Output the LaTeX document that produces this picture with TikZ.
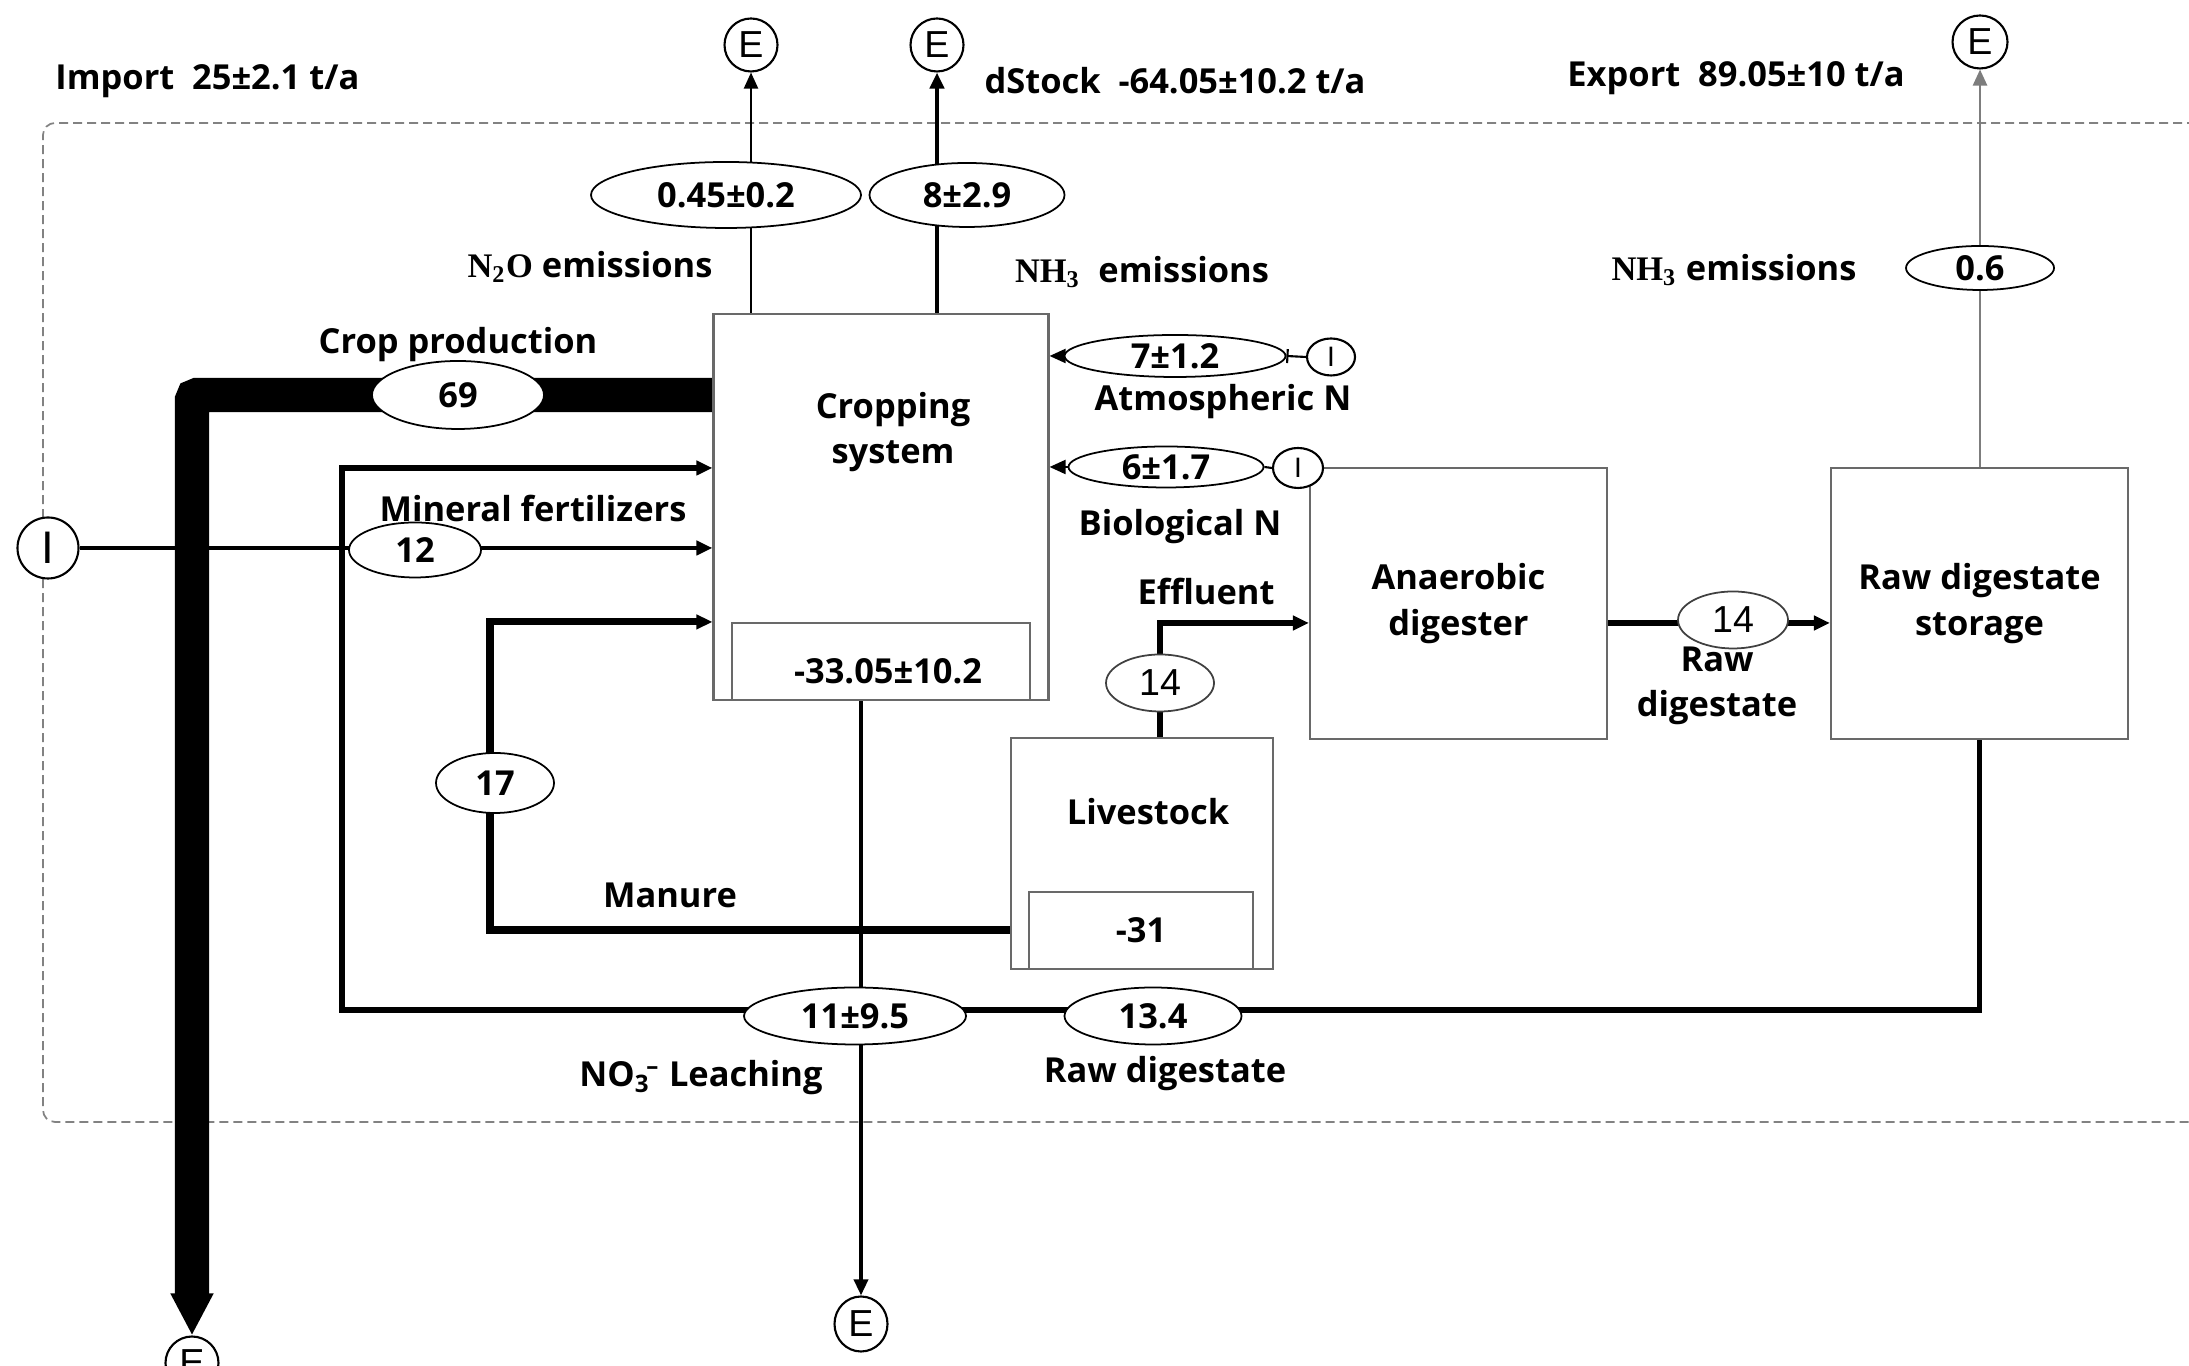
\documentclass[tikz,border=0pt]{standalone}
\usepackage{fontspec}
\setmainfont{Open Sans}
\newfontfamily\termfont{Liberation Sans}
\newfontfamily\chemfont{Liberation Serif}
\usetikzlibrary{shapes.geometric,arrows.meta,backgrounds}
\definecolor{boxgray}{RGB}{105, 105, 105}
\definecolor{linegray}{RGB}{125, 125, 125}
\definecolor{dashgray}{RGB}{130, 130, 130}

\begin{document}
\begin{tikzpicture}[font=\bfseries\fontsize{9.8}{13}\selectfont,
    flowbox/.style={draw=boxgray, line width=0.6pt, fill=white, inner sep=0pt},
    valnode/.style={ellipse, draw, line width=0.5pt, fill=white, inner sep=0pt},
    termnode/.style={ellipse, draw, line width=0.6pt, fill=white, inner sep=0pt,
      font=\termfont\mdseries\fontsize{10.7}{12}\selectfont},
    arr/.style={-{Triangle[length=1.6mm, width=1.4mm]}}]
        \useasboundingbox (0,0) rectangle (21.89,13.66);
        % Cropping system
        \node[flowbox, minimum width=3.35cm, minimum height=3.86cm] (crop) at (8.81,8.59) {};
        \node[align=center] (croplbl) at (8.93,9.34) {Cropping\\system};
        \node[flowbox, minimum width=2.98cm, minimum height=0.77cm] (cropstock) at (8.81,7.045) {};
        \node (cropstocklbl) at (8.88,6.95) {-33.05±10.2};
        % Livestock
        \node[flowbox, minimum width=2.62cm, minimum height=2.31cm] (live) at (11.42,5.125) {};
        \node (livelbl) at (11.48,5.54) {Livestock};
        \node[flowbox, minimum width=2.24cm, minimum height=0.77cm] (livestock) at (11.41,4.355) {-31};
        % Anaerobic digester
        \node[flowbox, minimum width=2.97cm, minimum height=2.71cm, align=center] (ad) at (14.585,7.625) {Anaerobic\\digester};
        % Raw digestate storage
        \node[flowbox, minimum width=2.97cm, minimum height=2.71cm, align=center] (store) at (19.795,7.625) {Raw digestate\\storage};
        % Import / export terminals
        \node[termnode, minimum width=0.53cm, minimum height=0.53cm] (eN2O) at (7.51,13.21) {E};
        \node[termnode, minimum width=0.53cm, minimum height=0.53cm] (eNH3) at (9.37,13.21) {E};
        \node[termnode, minimum width=0.55cm, minimum height=0.53cm] (eNH3b) at (19.80,13.24) {E};
        \node[termnode, minimum width=0.53cm, minimum height=0.55cm] (eNO3) at (8.61,0.42) {E};
        \node[termnode, minimum width=0.53cm, minimum height=0.53cm] (eCrop) at (1.92,0.03) {E};
        \node[termnode, minimum width=0.61cm, minimum height=0.61cm, font=\termfont\mdseries\fontsize{13}{14}\selectfont] (iMin) at (0.48,8.18) {I};
        \node[termnode, minimum width=0.48cm, minimum height=0.37cm, font=\termfont\mdseries\fontsize{8}{9}\selectfont] (iAtm) at (13.31,10.09) {I};
        \node[termnode, minimum width=0.50cm, minimum height=0.40cm, font=\termfont\mdseries\fontsize{8}{9}\selectfont] (iBio) at (12.98,8.98) {I};
        % Flow values
        \node[valnode, minimum width=1.72cm, minimum height=0.68cm] (v69) at (4.58,9.71) {69};
        \node[valnode, minimum width=1.32cm, minimum height=0.55cm] (v12) at (4.15,8.16) {12};
        \node[valnode, minimum width=1.18cm, minimum height=0.60cm] (v17) at (4.95,5.83) {17};
        \node[valnode, minimum width=2.70cm, minimum height=0.66cm] (vN2O) at (7.26,11.71) {0.45±0.2};
        \node[valnode, minimum width=1.95cm, minimum height=0.64cm] (vNH3) at (9.67,11.71) {8±2.9};
        \node[valnode, minimum width=1.48cm, minimum height=0.44cm] (v06) at (19.80,10.98) {0.6};
        \node[valnode, minimum width=2.21cm, minimum height=0.42cm] (vAtm) at (11.75,10.10) {7±1.2};
        \node[valnode, minimum width=1.95cm, minimum height=0.41cm] (vBio) at (11.66,8.99) {6±1.7};
        \node[valnode, draw=black!75, minimum width=1.08cm, minimum height=0.57cm, font=\termfont\mdseries\fontsize{10.7}{12}\selectfont] (vEff) at (11.60,6.83) {14};
        \node[valnode, draw=black!75, minimum width=1.10cm, minimum height=0.57cm, font=\termfont\mdseries\fontsize{10.7}{12}\selectfont] (vRaw) at (17.33,7.46) {14};
        \node[valnode, minimum width=2.22cm, minimum height=0.57cm] (vLeach) at (8.55,3.50) {11±9.5};
        \node[valnode, minimum width=1.77cm, minimum height=0.57cm] (vDig) at (11.53,3.50) {13.4};
        % Labels
        \node[anchor=west] (importlbl) at (0.43,12.85) {Import\ \ 25±2.1 t/a};
        \node (dstocklbl) at (11.75,12.85) {dStock\ \ -64.05±10.2 t/a};
        \node (exportlbl) at (17.36,12.88) {Export\ \ 89.05±10 t/a};
        \node (n2olbl) at (5.90,10.99) {{\chemfont N\textsubscript{2}O} emissions};
        \node (nh3lbl) at (11.42,10.94) {{\chemfont NH\textsubscript{3}}\ \ emissions};
        \node (nh3blbl) at (17.34,10.96) {{\chemfont NH\textsubscript{3}} emissions};
        \node (cropprodlbl) at (4.58,10.21) {Crop production};
        \node (minlbl) at (5.33,8.57) {Mineral fertilizers};
        \node (atmlbl) at (12.23,9.64) {Atmospheric N};
        \node (biolbl) at (11.80,8.39) {Biological N};
        \node (efflbl) at (12.06,7.74) {Effluent};
        \node[align=center] (rawlbl) at (17.17,6.80) {Raw\\digestate};
        \node (manlbl) at (6.70,4.71) {Manure};
        \node (leachlbl) at (7.01,2.88) {NO\textsubscript{3}\kern-0.12em\textsuperscript{--} Leaching};
        \node (diglbl) at (11.65,2.92) {Raw digestate};
        \begin{scope}[on background layer]
        % System boundary
        \draw[dashgray, line width=0.5pt, dash pattern=on 0.09cm off 0.05cm, rounded corners=0.12cm] (22.1,12.43) -- (0.43,12.43) -- (0.43,2.44) -- (22.1,2.44);
        % Crop production
        \coordinate (cropturn) at (1.92,9.71);
        \draw[line width=9.7pt, rounded corners=0.05cm, -{Triangle[length=0.42cm, width=0.4cm]}] (crop.west |- v69) -- (cropturn) -- (eCrop.north);
        % Gaseous emissions
        \draw[line width=0.6pt, arr] (crop.north -| eN2O) -- (eN2O.south);
        \draw[line width=1.3pt, arr] (crop.north -| eNH3) -- (eNH3.south);
        \draw[linegray, line width=0.7pt, arr] (store.north -| eNH3b) -- (eNH3b.south);
        % Atmospheric and biological N
        \draw[line width=0.6pt, {Bar[width=1.4mm]}-] (vAtm.east) -- (iAtm.west);
        \draw[line width=0.6pt, arr] (vAtm.west) -- (crop.east |- vAtm);
        \draw[line width=0.6pt] (vBio.east) -- (iBio.west);
        \draw[line width=0.6pt, arr] (vBio.west) -- (crop.east |- vBio);
        % Mineral fertilizers
        \draw[line width=1.4pt, arr] (iMin.east) -- (crop.west |- iMin);
        % Raw digestate back to the fields
        \coordinate (rawturn) at (3.42,3.56);
        \coordinate (rawtop) at (3.42,8.98);
        \draw[line width=1.5pt, arr] (store.south) |- (rawturn) -- (rawtop) -- (crop.west |- rawtop);
        % Manure
        \coordinate (manturn) at (4.90,4.36);
        \draw[line width=2pt, arr] (live.west |- manturn) -- (manturn) |- (cropstock.north -| crop.west);
        % Effluent and raw digestate
        \coordinate (effturn) at (11.60,7.43);
        \draw[line width=1.6pt, arr] (live.north -| effturn) -- (effturn) -- (ad.west |- effturn);
        \draw[line width=1.6pt, arr] (ad.east |- effturn) -- (store.west |- effturn);
        % Leaching
        \draw[line width=1pt, arr] (cropstock.south -| eNO3) -- (eNO3.north);
        \end{scope}
      \end{tikzpicture}
\end{document}
